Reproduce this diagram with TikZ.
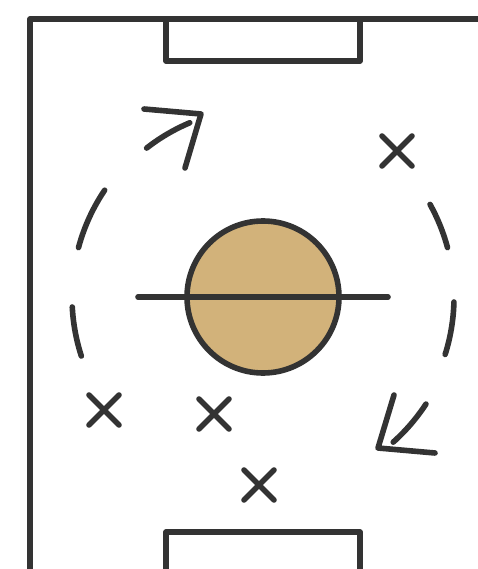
\documentclass[tikz,border=0pt]{standalone}
\usetikzlibrary{calc}
\definecolor{ink}{HTML}{333333}
\definecolor{ball}{HTML}{D2B27A}
\begin{document}
\begin{tikzpicture}[x=1pt,y=-1pt,
  stroke/.style={draw=ink,line width=5.6pt,line cap=round,line join=round},
  cross/.style={stroke}]
\useasboundingbox (0,0) rectangle (478,569);
% field
\draw[stroke,line cap=butt] (30,575) -- (30,19) -- (485,19);
\draw[stroke] (166,19) -- (166,61) -- (360,61) -- (360,19);
\draw[stroke,line cap=butt] (166,575) -- (166,532) -- (360,532) -- (360,575);
% centre
\coordinate (c) at (263,297);
\draw[stroke,fill=ball] (c) circle[radius=76];
\draw[stroke] (138,297) -- (388,297);
% dashed ring
\foreach \a/\b in {146/165,183/198,15/29,-1.5/-17.5}{
  \draw[stroke] ($(c)+(\a:191 and -191)$) arc[start angle=-\a,end angle=-\b,radius=191];
}
% arrows
\draw[stroke] ($(c)+(128:189 and -189)$) arc[start angle=-128,end angle=-112.8,radius=189];
\draw[stroke] (144,109) -- (201,114) -- (185,168);
\draw[stroke] ($(c)+(-33.3:195 and -195)$) arc[start angle=33.3,end angle=48.1,radius=195];
\draw[stroke] (394,395) -- (378,448) -- (435,453);
% crosses
\foreach \n/\x/\y in {p1/397/151,p2/104/410,p3/214/414,p4/259/485}{
  \coordinate (\n) at (\x,\y);
  \draw[cross] ($(\n)+(-15,-15)$) -- ($(\n)+(15,15)$);
  \draw[cross] ($(\n)+(-15,15)$) -- ($(\n)+(15,-15)$);
}
\end{tikzpicture}
\end{document}
